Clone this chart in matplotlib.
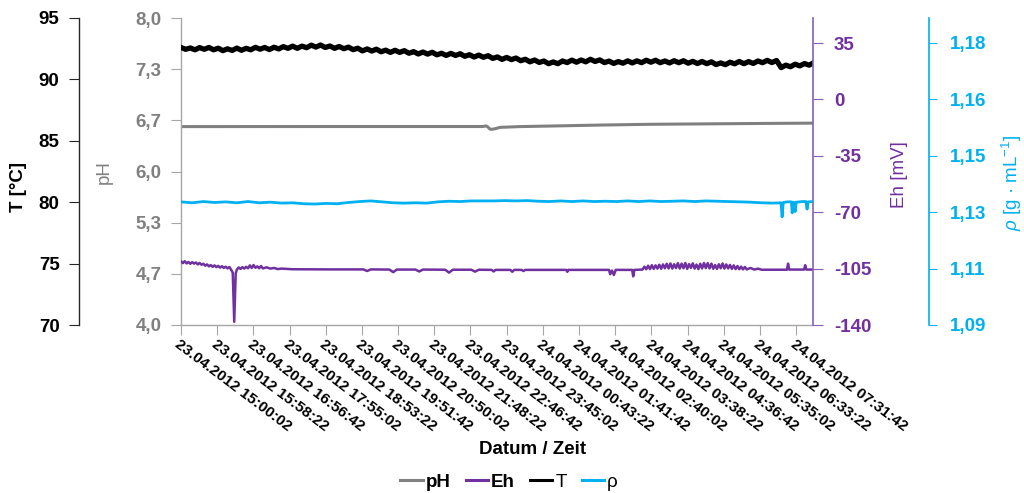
import numpy as np
import matplotlib.pyplot as plt
from matplotlib.lines import Line2D

plt.rcParams['font.family'] = ['Liberation Sans', 'DejaVu Sans']
plt.rcParams['mathtext.fontset'] = 'custom'
plt.rcParams['mathtext.rm'] = 'Liberation Sans'
plt.rcParams['mathtext.it'] = 'Liberation Sans:italic'

# x axis: hours since 23.04.2012 15:00:02, one label every 58:20 min
date_labels = [
    "23.04.2012 15:00:02", "23.04.2012 15:58:22", "23.04.2012 16:56:42",
    "23.04.2012 17:55:02", "23.04.2012 18:53:22", "23.04.2012 19:51:42",
    "23.04.2012 20:50:02", "23.04.2012 21:48:22", "23.04.2012 22:46:42",
    "23.04.2012 23:45:02", "24.04.2012 00:43:22", "24.04.2012 01:41:42",
    "24.04.2012 02:40:02", "24.04.2012 03:38:22", "24.04.2012 04:36:42",
    "24.04.2012 05:35:02", "24.04.2012 06:33:22", "24.04.2012 07:31:42",
]
label_step_h = 3500 / 3600
t_end = 16.98

# temperature [°C], logged every 7.5 min
T = [92.60, 92.45, 92.56, 92.41, 92.59, 92.45, 92.60, 92.41, 92.54, 92.34,
     92.49, 92.36, 92.55, 92.37, 92.53, 92.41, 92.61, 92.46, 92.60, 92.43,
     92.62, 92.48, 92.67, 92.53, 92.71, 92.53, 92.71, 92.58, 92.79, 92.63,
     92.80, 92.60, 92.72, 92.53, 92.68, 92.50, 92.63, 92.42, 92.54, 92.32,
     92.48, 92.31, 92.46, 92.25, 92.38, 92.20, 92.37, 92.20, 92.34, 92.13,
     92.26, 92.07, 92.23, 92.06, 92.21, 92.00, 92.13, 91.95, 92.12, 91.95,
     92.09, 91.88, 92.01, 91.82, 91.98, 91.80, 91.93, 91.71, 91.83, 91.63,
     91.79, 91.61, 91.74, 91.52, 91.64, 91.43, 91.58, 91.38, 91.50, 91.28,
     91.42, 91.28, 91.50, 91.37, 91.57, 91.40, 91.58, 91.43, 91.64, 91.46,
     91.59, 91.37, 91.49, 91.30, 91.45, 91.32, 91.51, 91.34, 91.51, 91.36,
     91.56, 91.40, 91.56, 91.36, 91.50, 91.34, 91.52, 91.36, 91.52, 91.32,
     91.47, 91.29, 91.46, 91.28, 91.43, 91.21, 91.34, 91.20, 91.40, 91.27,
     91.46, 91.28, 91.45, 91.30, 91.50, 91.36, 91.55, 91.37, 91.54, 90.96,
     91.16, 91.03, 91.24, 91.10, 91.29, 91.16, 91.36]
t_T = np.arange(len(T)) * 0.125

# pH
t_pH = [0.00, 4.00, 8.10, 8.20, 8.25, 8.30, 8.36, 8.44, 8.57, 9.10, 10.20,
        11.26, 12.60, 13.95, 15.56, 16.98]
pH = [6.585, 6.586, 6.586, 6.594, 6.578, 6.552, 6.550, 6.558, 6.575, 6.585,
      6.595, 6.605, 6.615, 6.620, 6.626, 6.630]

# redox potential Eh [mV]
t_Eh = [0.00, 0.05, 0.10, 0.15, 0.20, 0.25, 0.30, 0.35, 0.40, 0.45, 0.50, 0.55,
        0.60, 0.65, 0.70, 0.75, 0.80, 0.85, 0.90, 0.95, 1.00, 1.05, 1.10, 1.15,
        1.20, 1.25, 1.30, 1.35, 1.39, 1.41, 1.43, 1.45, 1.47, 1.50, 1.55, 1.60,
        1.65, 1.70, 1.75, 1.80, 1.85, 1.90, 1.95, 2.00, 2.05, 2.10, 2.15, 2.20,
        2.30, 2.40, 2.50, 2.60, 2.70, 3.00, 4.00, 4.90, 5.00, 5.10, 5.60, 5.70,
        5.80, 6.30, 6.40, 6.50, 7.10, 7.20, 7.30, 7.80, 7.90, 8.00, 8.35, 8.40,
        8.45, 8.85, 8.90, 8.95, 9.15, 9.20, 9.25, 10.35, 10.38, 10.41, 11.50,
        11.53, 11.58, 11.63, 11.68, 12.12, 12.15, 12.18, 12.40, 12.45, 12.50,
        12.55, 12.60, 12.65, 12.70, 12.75, 12.80, 12.85, 12.90, 12.95, 13.00,
        13.05, 13.10, 13.15, 13.20, 13.25, 13.30, 13.35, 13.40, 13.45, 13.50,
        13.55, 13.60, 13.65, 13.70, 13.75, 13.80, 13.85, 13.90, 13.95, 14.00,
        14.05, 14.10, 14.15, 14.20, 14.25, 14.30, 14.35, 14.40, 14.45, 14.50,
        14.55, 14.60, 14.65, 14.70, 14.75, 14.80, 14.85, 14.90, 14.95, 15.00,
        15.05, 15.10, 15.15, 15.20, 15.30, 15.40, 15.50, 15.60, 16.28, 16.31,
        16.34, 16.74, 16.77, 16.80, 16.98]
Eh = [-100.5, -101.6, -100.4, -101.8, -100.9, -102.0, -101.0, -101.9, -101.2,
      -102.4, -101.5, -102.6, -102.0, -103.2, -102.4, -103.6, -102.8, -103.9,
      -103.0, -104.1, -103.3, -104.4, -103.5, -104.6, -103.8, -104.9, -104.0,
      -105.8, -107.5, -122.0, -138.0, -124.0, -108.0, -105.6, -104.3, -105.2,
      -104.1, -105.0, -103.9, -104.8, -103.0, -104.6, -102.8, -104.5, -103.6,
      -104.8, -103.4, -104.9, -104.2, -105.0, -104.6, -105.3, -105.0, -105.4,
      -105.5, -105.5, -106.5, -105.5, -105.6, -107.2, -105.6, -105.6, -106.8,
      -105.6, -105.7, -107.5, -105.7, -105.7, -106.9, -105.7, -105.8, -106.8,
      -105.8, -105.8, -107.0, -105.8, -105.8, -106.5, -105.8, -105.8, -107.0,
      -105.8, -105.8, -108.5, -106.2, -109.0, -105.8, -105.8, -109.8, -105.8,
      -105.6, -103.8, -105.4, -103.2, -105.3, -102.9, -105.2, -103.0, -105.0,
      -102.6, -105.1, -102.4, -104.8, -102.0, -104.9, -101.8, -105.0, -102.3,
      -104.7, -101.6, -105.0, -101.9, -104.8, -101.5, -105.2, -102.2, -104.6,
      -101.7, -105.0, -102.5, -105.3, -102.0, -104.9, -101.5, -104.7, -101.6,
      -104.9, -101.9, -105.1, -102.8, -105.2, -102.3, -104.8, -101.8, -105.0,
      -102.4, -104.9, -102.7, -105.2, -103.0, -105.3, -103.4, -105.4, -103.8,
      -105.5, -104.0, -105.5, -104.6, -105.6, -105.0, -105.7, -105.7, -101.9,
      -105.6, -105.6, -102.9, -105.6, -105.6]

# density rho [g/mL]
t_rho = [0.0, 0.3, 0.6, 0.9, 1.2, 1.5, 1.8, 2.1, 2.4, 2.7, 3.0, 3.3, 3.6, 3.9,
         4.2, 4.5, 4.8, 5.1, 5.4, 5.7, 6.0, 6.3, 6.6, 6.9, 7.2, 7.5, 7.8, 8.1,
         8.4, 8.7, 9.0, 9.3, 9.6, 9.9, 10.2, 10.5, 10.8, 11.1, 11.4, 11.7, 12.0,
         12.3, 12.6, 12.9, 13.2, 13.5, 13.8, 14.1, 14.4, 14.7, 15.0, 15.3, 15.6,
         15.9, 16.12, 16.15, 16.18, 16.30, 16.40, 16.42, 16.45, 16.48, 16.50,
         16.53, 16.70, 16.79, 16.82, 16.85, 16.98]
rho = [1.1293, 1.1290, 1.1294, 1.1291, 1.1293, 1.1290, 1.1294, 1.1290, 1.1292,
       1.1289, 1.1290, 1.1287, 1.1286, 1.1288, 1.1287, 1.1291, 1.1294, 1.1296,
       1.1293, 1.1290, 1.1289, 1.1290, 1.1289, 1.1293, 1.1295, 1.1294, 1.1296,
       1.1296, 1.1296, 1.1297, 1.1296, 1.1297, 1.1295, 1.1294, 1.1296, 1.1294,
       1.1296, 1.1294, 1.1295, 1.1294, 1.1296, 1.1294, 1.1296, 1.1294, 1.1295,
       1.1296, 1.1294, 1.1296, 1.1295, 1.1294, 1.1293, 1.1292, 1.1290, 1.1289,
       1.1290, 1.1245, 1.1291, 1.1293, 1.1293, 1.1258, 1.1292, 1.1290, 1.1262,
       1.1292, 1.1294, 1.1294, 1.1270, 1.1293, 1.1294]

ph_ticklabels = ["4,0", "4,7", "5,3", "6,0", "6,7", "7,3", "8,0"]
eh_ticklabels = ["-140", "-105", "-70", "-35", "0", "35"]
rho_ticklabels = ["1,09", "1,11", "1,13", "1,15", "1,16", "1,18"]
T_ticklabels = ["70", "75", "80", "85", "90", "95"]

c_ph, c_eh, c_T, c_rho = "#808080", "#7030A0", "#000000", "#00B0F0"
fs = 13.5

W, H = 1024, 493
fig = plt.figure(figsize=(W / 100, H / 100), dpi=100)
ax = fig.add_axes([181 / W, 1 - 325 / H, 632 / W, 307 / H])

# pH on the main axis
ax.plot(t_pH, pH, color=c_ph, lw=2.2, solid_capstyle="butt")
ax.set_xlim(0, t_end)
ax.set_ylim(4, 8)
ax.set_yticks(np.linspace(4, 8, 7))
ax.set_yticklabels(ph_ticklabels)
ax.tick_params(axis="y", colors="#A6A6A6", labelcolor=c_ph, length=7, pad=7,
               labelsize=fs)
for lab in ax.get_yticklabels():
    lab.set_fontweight("bold")
ax.set_xticks(np.arange(len(date_labels)) * label_step_h)
ax.set_xticklabels(date_labels, rotation=-37, ha="left", va="top",
                   rotation_mode="anchor", fontsize=11, fontweight="bold")
ax.tick_params(axis="x", colors="#A6A6A6", labelcolor="black", length=7, pad=2)
for side in ("top", "right"):
    ax.spines[side].set_visible(False)
ax.spines["left"].set_color("#A6A6A6")
ax.spines["bottom"].set_color("#A6A6A6")
ax.spines["left"].set_linewidth(1.0)
ax.spines["bottom"].set_linewidth(1.0)

# temperature axis, outer left
axT = ax.twinx()
axT.plot(t_T, T, color=c_T, lw=3.8)
axT.set_ylim(70, 95)
axT.set_yticks(np.arange(70, 96, 5))
axT.set_yticklabels(T_ticklabels)
axT.yaxis.tick_left()
axT.spines["left"].set_visible(True)
axT.spines["left"].set_position(("axes", -102 / 632))
axT.spines["left"].set_color("#262626")
axT.spines["left"].set_linewidth(1.0)
for side in ("top", "right", "bottom"):
    axT.spines[side].set_visible(False)
axT.tick_params(axis="y", colors="#262626", labelcolor="black", length=7, pad=7,
                labelsize=fs)
for lab in axT.get_yticklabels():
    lab.set_fontweight("bold")

# Eh axis, right
axEh = ax.twinx()
axEh.plot(t_Eh, Eh, color=c_eh, lw=1.8)
axEh.set_ylim(-140, -140 + 307 / 56.4 * 35)
axEh.set_yticks(np.arange(-140, 36, 35))
axEh.set_yticklabels(eh_ticklabels)
for side in ("top", "left", "bottom"):
    axEh.spines[side].set_visible(False)
axEh.spines["right"].set_color("#8560B8")
axEh.spines["right"].set_linewidth(1.2)
axEh.tick_params(axis="y", colors="#8560B8", labelcolor=c_eh, length=7, pad=8,
                 labelsize=fs)
for lab in axEh.get_yticklabels():
    lab.set_fontweight("bold")

# density axis, outer right
axR = ax.twinx()
axR.plot(t_rho, rho, color=c_rho, lw=2.0)
axR.set_ylim(1.09, 1.09 + 307 / 56.4 * 0.018)
axR.set_yticks(1.09 + np.arange(6) * 0.018)
axR.set_yticklabels(rho_ticklabels)
for side in ("top", "left", "bottom"):
    axR.spines[side].set_visible(False)
axR.spines["right"].set_position(("axes", (929 - 181) / 632))
axR.spines["right"].set_color(c_rho)
axR.spines["right"].set_linewidth(1.2)
axR.tick_params(axis="y", colors=c_rho, length=6, pad=9, labelsize=fs)
for lab in axR.get_yticklabels():
    lab.set_fontweight("bold")

# axis titles
fig.text(18.5 / W, 1 - 187 / H, "T [°C]", rotation=90, ha="center", va="center",
         fontsize=fs, fontweight="bold", color=c_T)
fig.text(104 / W, 1 - 172 / H, "pH", rotation=90, ha="center", va="center",
         fontsize=fs, color=c_ph)
fig.text(900 / W, 1 - 175 / H, "Eh [mV]", rotation=90, ha="center", va="center",
         fontsize=fs, color=c_eh)
fig.text(1012 / W, 1 - 183 / H, r"$\rho$ [g · mL$^{-1}$]", rotation=90,
         ha="center", va="center", fontsize=fs, color=c_rho)
fig.text(533 / W, 1 - 450 / H, "Datum / Zeit", ha="center", va="center",
         fontsize=fs, fontweight="bold")

handles = [Line2D([], [], color=c, lw=2.2) for c in (c_ph, c_eh, c_T, c_rho)]
leg = fig.legend(handles, ["pH", "Eh", "T", "ρ"], loc="center",
                 bbox_to_anchor=(509 / W, 1 - 482 / H), ncol=4, frameon=False,
                 fontsize=fs, handlelength=1.2, handletextpad=0.15,
                 columnspacing=0.8, borderpad=0)
for txt in leg.get_texts()[:2]:
    txt.set_fontweight("bold")

fig.savefig("out.png", dpi=100)
